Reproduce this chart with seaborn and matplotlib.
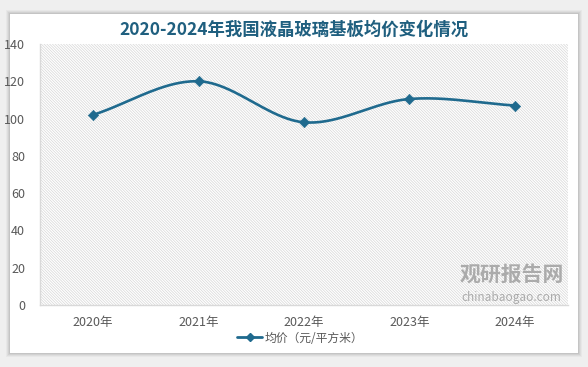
import numpy as np
import pandas as pd
import matplotlib
matplotlib.use("Agg")
import matplotlib.pyplot as plt
import seaborn as sns
from matplotlib.patches import Rectangle

years = ["2020年", "2021年", "2022年", "2023年", "2024年"]
prices = [102, 120, 98, 110.5, 107]
series_name = "均价（元/平方米）"
title = "2020-2024年我国液晶玻璃基板均价变化情况"
yticks = [0, 20, 40, 60, 80, 100, 120, 140]

sns.set_theme(style="white")
plt.rcParams['font.family'] = ['Noto Sans CJK SC', 'DejaVu Sans']
plt.rcParams['hatch.color'] = '#d3d3d3'
plt.rcParams['hatch.linewidth'] = 0.5

W, H = 588, 367
fig = plt.figure(figsize=(W/100, H/100), dpi=100)
fig.patch.set_facecolor('#efefef')

# white card with soft shadow
for i, a in enumerate([0.03, 0.04, 0.05, 0.06]):
    off = 4 - i
    fig.patches.append(Rectangle(((10-off)/W, 1-(353+off)/H), (568+2*off)/W, (339+2*off)/H,
                                 transform=fig.transFigure, facecolor='#000000', alpha=a,
                                 edgecolor='none', zorder=-3))
fig.patches.append(Rectangle((10/W, 1-353/H), 568/W, 339/H, transform=fig.transFigure,
                             facecolor='white', edgecolor='none', zorder=-2))

left, right, top, bottom = 40.5, 567.5, 44, 305
ax = fig.add_axes([left/W, 1-bottom/H, (right-left)/W, (bottom-top)/H])
ax.set_facecolor('none')

df = pd.DataFrame({"year": years, "price": prices})
x = np.arange(len(years))

# smoothed curve (Catmull-Rom through the data points)
pts = np.column_stack([x, df["price"].values]).astype(float)
ext = np.vstack([pts[0] - (pts[1]-pts[0]), pts, pts[-1] + (pts[-1]-pts[-2])])
cx, cy = [], []
for i in range(1, len(ext)-2):
    p0, p1, p2, p3 = ext[i-1], ext[i], ext[i+1], ext[i+2]
    t = np.linspace(0, 1, 40)[:, None]
    seg = 0.5*((2*p1) + (-p0+p2)*t + (2*p0-5*p1+4*p2-p3)*t**2 + (-p0+3*p1-3*p2+p3)*t**3)
    cx.extend(seg[:, 0]); cy.extend(seg[:, 1])
color = '#1f6a8e'
sns.lineplot(x=cx, y=cy, ax=ax, color=color, linewidth=1.9, sort=False, legend=False)
sns.scatterplot(x=x, y=df["price"], ax=ax, color=color, marker='D', s=28, edgecolor=color, zorder=5, legend=False)

ax.add_patch(Rectangle((0, 0), 1, 1, transform=ax.transAxes, facecolor='none',
                       hatch='\\' * 12, edgecolor='#d6d6d6', linewidth=0, zorder=0))

ax.set_xlim(-0.5, len(years)-0.5)
ax.set_ylim(0, 140)
ax.set_yticks(yticks)
ax.set_yticklabels([str(v) for v in yticks])
ax.set_xticks(x)
ax.set_xticklabels(years)
ax.tick_params(axis='both', length=0, labelsize=9, colors='#595959')
ax.tick_params(axis='x', pad=8)
ax.tick_params(axis='y', pad=11)
for s in ['top', 'right']:
    ax.spines[s].set_visible(False)
ax.spines['left'].set_color('#d9d9d9')
ax.spines['bottom'].set_color('#d9d9d9')
ax.spines['left'].set_linewidth(1)
ax.spines['bottom'].set_linewidth(1)
ax.set_xlabel(''); ax.set_ylabel('')

fig.text(294/W, 1-30/H, title, ha='center', va='center', fontsize=12.5,
         fontweight='bold', color='#1f5f7f')

# legend
from matplotlib.lines import Line2D
h = Line2D([0], [0], color=color, lw=2, marker='D', markersize=4)
fig.legend([h], [series_name], loc='center', bbox_to_anchor=(300/W, 1-338/H),
           frameon=False, fontsize=8.5, handlelength=2.2, handletextpad=0.2,
           labelcolor='#595959')

# watermark
fig.text(512/W, 1-274/H, "观研报告网", ha='center', va='center', fontsize=15,
         fontweight='bold', color='#9a9a9a', alpha=0.8)
fig.text(511/W, 1-297/H, "chinabaogao.com", ha='center', va='center', fontsize=8.5,
         color='#9a9a9a', alpha=0.8)

fig.savefig("out.png", dpi=100)
